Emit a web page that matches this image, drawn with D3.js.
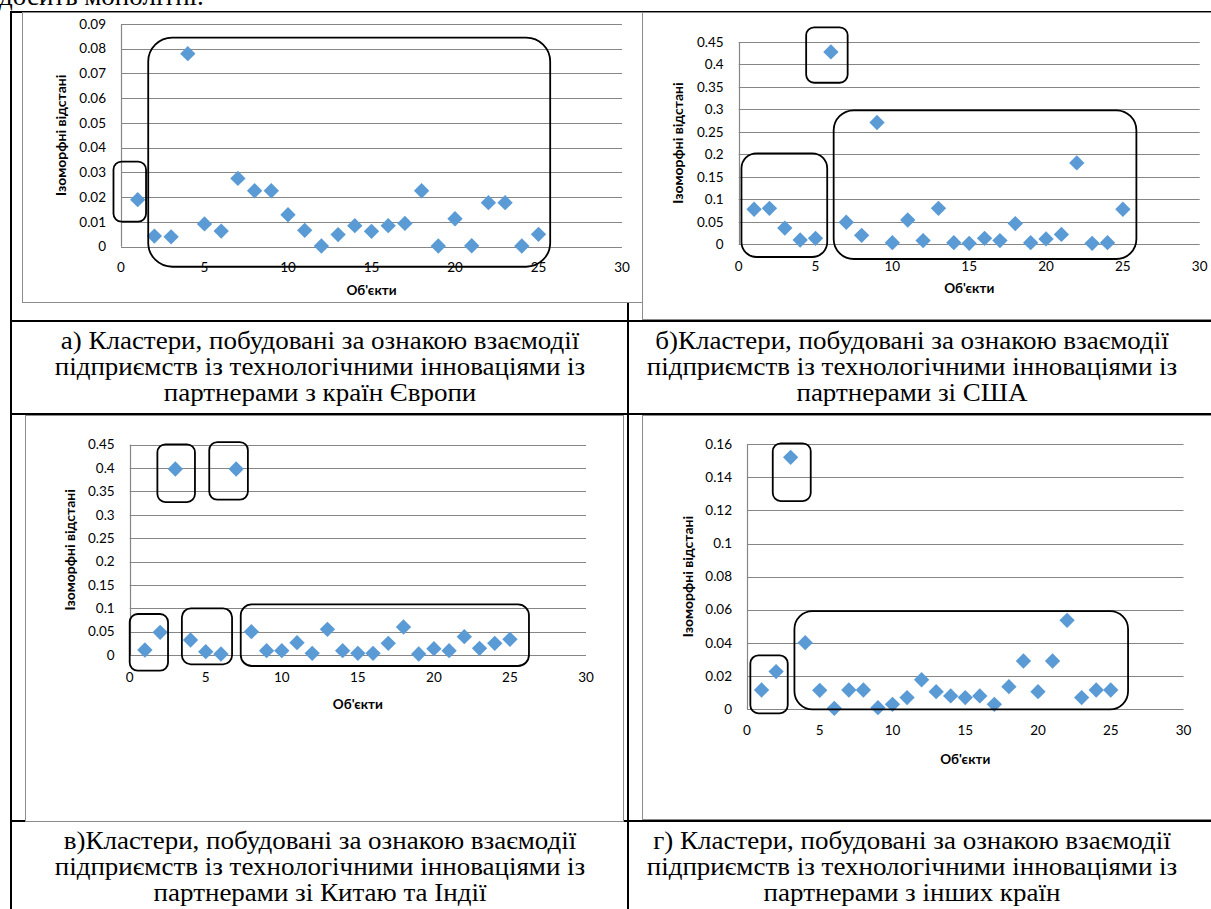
<!DOCTYPE html>
<html>
<head>
<meta charset="utf-8">
<script src="https://cdn.jsdelivr.net/npm/d3@7"></script>
<style>
  body { margin: 0; background: #fff; }
  svg { display: block; }
</style>
</head>
<body>
<div id="chart"></div>
<script>
// objects (x axis)
var objects = [1,2,3,4,5,6,7,8,9,10,11,12,13,14,15,16,17,18,19,20,21,22,23,24,25];

// isomorphic distances
var europeDist = [0.019,0.0043,0.004,0.078,0.0092,0.0063,0.0276,0.0226,0.0226,0.0129,0.0066,0.0003,0.0049,0.0085,0.0062,0.0085,0.0094,0.0226,0.0003,0.0113,0.0004,0.0178,0.0178,0.0003,0.005];
var usaDist = [0.078,0.08,0.036,0.0096,0.0133,0.428,0.049,0.02,0.271,0.0037,0.054,0.0082,0.08,0.0037,0.0022,0.0133,0.0082,0.046,0.0037,0.0119,0.022,0.181,0.0022,0.0037,0.078];
var chinaIndiaDist = [0.0107,0.0485,0.398,0.0321,0.0071,0.0021,0.398,0.0499,0.0093,0.0093,0.0264,0.0036,0.0549,0.0093,0.0036,0.0036,0.025,0.0599,0.0021,0.0136,0.0093,0.0392,0.0143,0.025,0.0335];
var otherDist = [0.0115,0.0226,0.1521,0.0401,0.0113,0.0004,0.0115,0.0115,0.0008,0.0028,0.0069,0.0177,0.0105,0.0079,0.0069,0.0079,0.0028,0.0135,0.029,0.0105,0.029,0.0536,0.0069,0.0115,0.0115];

// tick labels
var xTicks = [0,5,10,15,20,25,30];
var europeTicks = [0,0.01,0.02,0.03,0.04,0.05,0.06,0.07,0.08,0.09];
var usaTicks = [0,0.05,0.1,0.15,0.2,0.25,0.3,0.35,0.4,0.45];
var chinaIndiaTicks = [0,0.05,0.1,0.15,0.2,0.25,0.3,0.35,0.4,0.45];
var otherTicks = [0,0.02,0.04,0.06,0.08,0.1,0.12,0.14,0.16];

// cluster outlines in data units [x0, x1, yTop, yBottom]
var europeClusters = [[-0.45,1.5,0.0344,0.0101],[1.63,25.7,0.0845,-0.0081]];
var usaClusters = [[4.39,7.09,0.4827,0.3594],[0.18,5.76,0.2024,-0.0282],[6.18,25.88,0.298,-0.0327]];
var chinaIndiaClusters = [[1.82,4.29,0.4507,0.3273],[5.23,7.77,0.4557,0.3323],[0.0,2.52,0.0877,-0.0335],[3.43,6.73,0.0998,-0.02],[7.3,26.25,0.1084,-0.0235]];
var otherClusters = [[1.77,4.38,0.1606,0.1257],[0.23,2.8,0.0324,-0.0026],[3.26,26.19,0.0592,-0.0002]];

var yTitle = 'Ізоморфні відстані';
var xTitle = "Об'єкти";

var captions = [
    ['а) Кластери, побудовані за ознакою взаємодії','підприємств із технологічними інноваціями із','партнерами з країн Європи'],
    ['б)Кластери, побудовані за ознакою взаємодії','підприємств із технологічними інноваціями із','партнерами зі США'],
    ['в)Кластери, побудовані за ознакою взаємодії','підприємств із технологічними інноваціями із','партнерами зі Китаю та Індії'],
    ['г) Кластери, побудовані за ознакою взаємодії','підприємств із технологічними інноваціями із','партнерами з інших країн']
];

var W = 1211, H = 909;
var svg = d3.select('#chart').append('svg')
    .attr('width', W).attr('height', H)
    .style('background', '#fff');

var serif = '"Liberation Serif", "Times New Roman", serif';
var sans = 'Lato, "Open Sans", sans-serif';

// cut-off paragraph text above table
svg.append('text')
    .attr('x', -1).attr('y', 5)
    .style('font-family', serif).style('font-size', '27px')
    .text('досить монолітні.');

// table lines
var table = svg.append('g');
function hline(y, x0, x1) { table.append('line').attr('x1', x0).attr('x2', x1).attr('y1', y).attr('y2', y).attr('stroke', '#000').attr('stroke-width', 2); }
function vline(x, y0, y1) { table.append('line').attr('x1', x).attr('x2', x).attr('y1', y0).attr('y2', y1).attr('stroke', '#000').attr('stroke-width', 2); }
hline(12, 10, W);
hline(321, 10, W);
hline(414, 10, W);
hline(821, 10, W);
vline(11, 11, H);
vline(628, 300, H);

// panels
var panels = [
    { frame: [22, 12, 642, 302], xr: [121, 622], yr: [246.7, 24], values: europeDist, ticks: europeTicks, clusters: europeClusters, radius: [8, 24], titleX: 61, labelsY: 267, xTitleY: 290 },
    { frame: [642, 12, 1215, 319], xr: [738.7, 1199.7], yr: [244.3, 42], values: usaDist, ticks: usaTicks, clusters: usaClusters, radius: [8, 15, 20], titleX: 678, labelsY: 266, xTitleY: 288 },
    { frame: [25, 415, 623, 821], xr: [129.7, 586], yr: [655, 444.7], values: chinaIndiaDist, ticks: chinaIndiaTicks, clusters: chinaIndiaClusters, radius: [8, 8, 8, 9, 11], titleX: 70, labelsY: 677, xTitleY: 704 },
    { frame: [642, 415, 1215, 819], xr: [747, 1183.5], yr: [709, 444.3], values: otherDist, ticks: otherTicks, clusters: otherClusters, radius: [8, 8, 18], titleX: 688, labelsY: 730, xTitleY: 759 }
];

panels.forEach(function(p) { drawPanel(p); });

function drawPanel(p) {
    var g = svg.append('g');
    var f = p.frame;
    g.append('rect')
        .attr('x', f[0] + 0.5).attr('y', f[1] + 0.5)
        .attr('width', f[2] - f[0]).attr('height', f[3] - f[1])
        .attr('fill', '#fff').attr('stroke', '#8c8c8c').attr('stroke-width', 1);

    var x = d3.scaleLinear().domain([0, 30]).range(p.xr);
    var y = d3.scaleLinear().domain([0, d3.max(p.ticks)]).range(p.yr);

    // gridlines
    g.selectAll('.grid').data(p.ticks).enter().append('line')
        .attr('x1', x(0)).attr('x2', x(30))
        .attr('y1', function(d) { return Math.round(y(d)) + 0.5; })
        .attr('y2', function(d) { return Math.round(y(d)) + 0.5; })
        .attr('stroke', '#868686').attr('stroke-width', 1.2);
    // vertical axis line
    g.append('line')
        .attr('x1', Math.round(x(0)) + 0.5).attr('x2', Math.round(x(0)) + 0.5)
        .attr('y1', y(d3.max(p.ticks))).attr('y2', y(0))
        .attr('stroke', '#868686').attr('stroke-width', 1.2);

    // y tick labels
    g.selectAll('.ylab').data(p.ticks).enter().append('text')
        .attr('x', x(0) - 15).attr('y', function(d) { return y(d); })
        .attr('dy', '0.35em').attr('text-anchor', 'end')
        .style('font-family', sans).style('font-size', '13.5px').style('fill', '#000')
        .text(function(d) { return String(+d.toFixed(2)); });

    // x tick labels
    g.selectAll('.xlab').data(xTicks).enter().append('text')
        .attr('x', function(d) { return x(d); }).attr('y', p.labelsY)
        .attr('dy', '0.35em').attr('text-anchor', 'middle')
        .style('font-family', sans).style('font-size', '13.5px')
        .text(function(d) { return d; });

    // axis titles
    var cy = (p.yr[0] + p.yr[1]) / 2;
    g.append('text')
        .attr('transform', 'translate(' + p.titleX + ',' + cy + ') rotate(-90)')
        .attr('dy', '0.35em').attr('text-anchor', 'middle')
        .style('font-family', sans).style('font-size', '14px').style('font-weight', 'bold')
        .text(yTitle);
    g.append('text')
        .attr('x', (p.xr[0] + p.xr[1]) / 2).attr('y', p.xTitleY)
        .attr('dy', '0.35em').attr('text-anchor', 'middle')
        .style('font-family', sans).style('font-size', '13.5px').style('font-weight', 'bold')
        .text(xTitle);

    // diamonds
    var diamond = d3.symbol().type(d3.symbolDiamond2).size(150);
    g.selectAll('.pt').data(p.values).enter().append('path')
        .attr('d', diamond)
        .attr('transform', function(d, i) { return 'translate(' + x(objects[i]) + ',' + y(d) + ')'; })
        .attr('fill', '#5B9BD5');

    // cluster outlines
    g.selectAll('.cl').data(p.clusters).enter().append('rect')
        .attr('x', function(d) { return x(d[0]); })
        .attr('y', function(d) { return y(d[2]); })
        .attr('width', function(d) { return x(d[1]) - x(d[0]); })
        .attr('height', function(d) { return y(d[3]) - y(d[2]); })
        .attr('rx', function(d, i) { return p.radius[i]; })
        .attr('fill', 'none').attr('stroke', '#000').attr('stroke-width', 1.8);
}

// captions (Word text looks a little wider than Liberation Serif)
var captionPos = [[320, 349], [912, 349], [320, 849], [912, 849]];
captions.forEach(function(lines, k) {
    var cx = captionPos[k][0];
    var t = svg.append('text')
        .attr('text-anchor', 'middle')
        .attr('transform', 'translate(' + cx + ',0) scale(1.08,1)')
        .style('font-family', serif).style('font-size', '25px');
    lines.forEach(function(line, j) {
        t.append('tspan')
            .attr('x', 0)
            .attr('y', captionPos[k][1] + j * 26)
            .text(line);
    });
});
</script>
</body>
</html>
